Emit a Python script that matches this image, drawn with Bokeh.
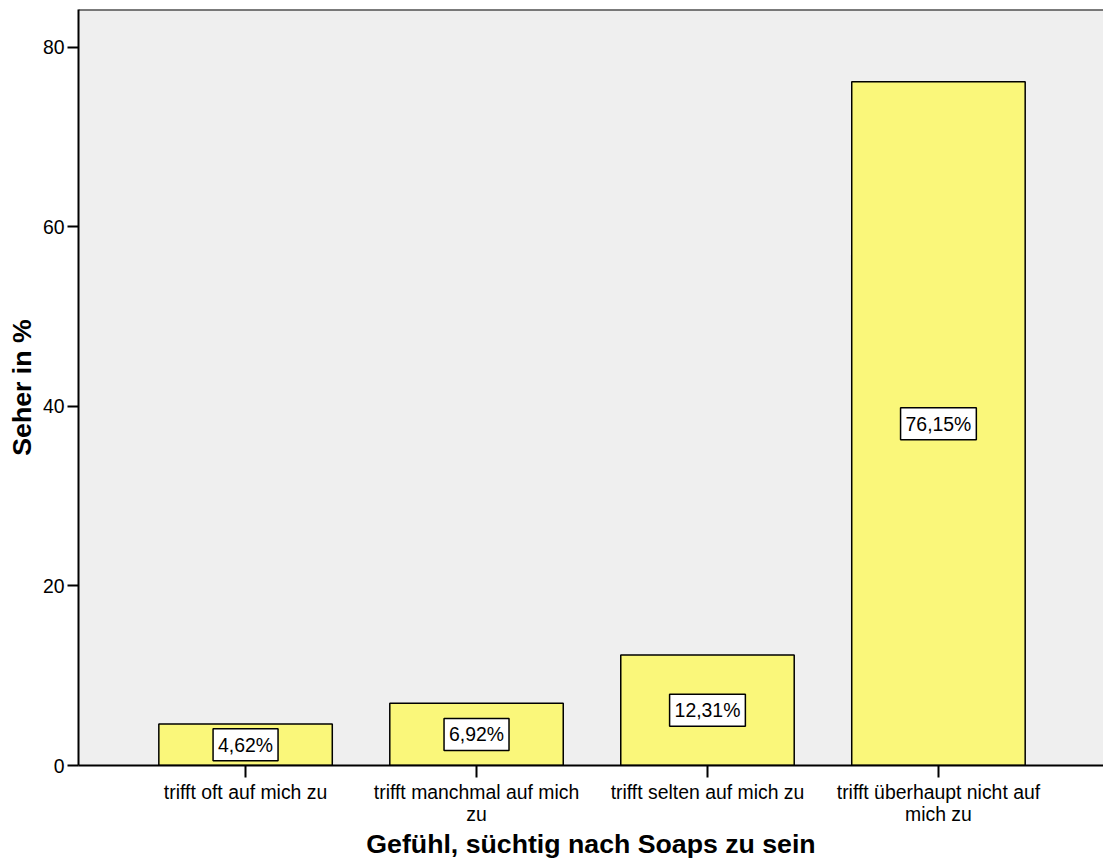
from bokeh.plotting import figure
from bokeh.models import Range1d, FixedTicker, Label, Span
from bokeh.embed import file_html
from bokeh.resources import INLINE

# Responses to "Gefühl, süchtig nach Soaps zu sein" (share of viewers, %)
categories = [
    "trifft oft auf mich zu",
    "trifft manchmal auf mich zu",
    "trifft selten auf mich zu",
    "trifft überhaupt nicht auf mich zu",
]
tick_labels = [
    "trifft oft auf mich zu",
    "trifft manchmal auf mich\nzu",
    "trifft selten auf mich zu",
    "trifft überhaupt nicht auf\nmich zu",
]
percent = [4.62, 6.92, 12.31, 76.15]
y_ticks = [0, 20, 40, 60, 80]

FONT = "Liberation Sans"
BAR_FILL = "#FAF77A"
PLOT_BG = "#EFEFEF"

positions = list(range(1, len(categories) + 1))
y_top = 84.2

p = figure(
    width=1103,
    height=861,
    output_backend="svg",
    toolbar_location=None,
    x_range=Range1d(0.2767, 4.7146),
    y_range=Range1d(0, y_top),
    min_border_left=78,
    min_border_top=9,
    min_border_right=0,
    min_border_bottom=96,
)
p.background_fill_color = PLOT_BG
p.border_fill_color = "white"
p.outline_line_color = None
p.grid.visible = False

p.vbar(x=positions, top=percent, bottom=0, width=0.751,
       fill_color=BAR_FILL, line_color="black", line_width=1.5)

# value labels in white boxes, centred on each bar
for xi, v in zip(positions, percent):
    txt = f"{v:.2f}".replace(".", ",") + "%"
    p.add_layout(Label(
        x=xi, y=v / 2, text=txt, anchor="center",
        text_font=FONT, text_font_size="19.4px", text_color="black",
        background_fill_color="white", border_line_color="black",
        border_line_width=1.5, padding=5,
    ))

# top edge of the plot frame
p.add_layout(Span(location=y_top, dimension="width",
                  line_color="black", line_width=2))

# x axis
xa = p.xaxis[0]
xa.ticker = FixedTicker(ticks=positions)
xa.major_label_overrides = {pos: lab for pos, lab in zip(positions, tick_labels)}
xa.axis_label = "Gefühl, süchtig nach Soaps zu sein"
xa.minor_tick_line_color = None

# y axis
ya = p.yaxis[0]
ya.ticker = FixedTicker(ticks=y_ticks)
ya.axis_label = "Seher in %"
ya.minor_tick_line_color = None

for ax in (xa, ya):
    ax.axis_line_color = "black"
    ax.axis_line_width = 2
    ax.major_tick_line_color = "black"
    ax.major_tick_line_width = 2
    ax.major_tick_in = 0
    ax.major_label_text_font = FONT
    ax.major_label_text_font_size = "19.4px"
    ax.major_label_text_color = "black"
    ax.axis_label_text_font = FONT
    ax.axis_label_text_font_size = "26.7px"
    ax.axis_label_text_font_style = "bold"
    ax.axis_label_text_color = "black"

xa.major_tick_out = 12
xa.major_label_standoff = 3
xa.major_label_text_line_height = 1.0
xa.axis_label_standoff = 1
ya.major_tick_out = 11
ya.major_label_standoff = 3
ya.axis_label_standoff = 3

open("out.html", "w").write(file_html(p, INLINE))
